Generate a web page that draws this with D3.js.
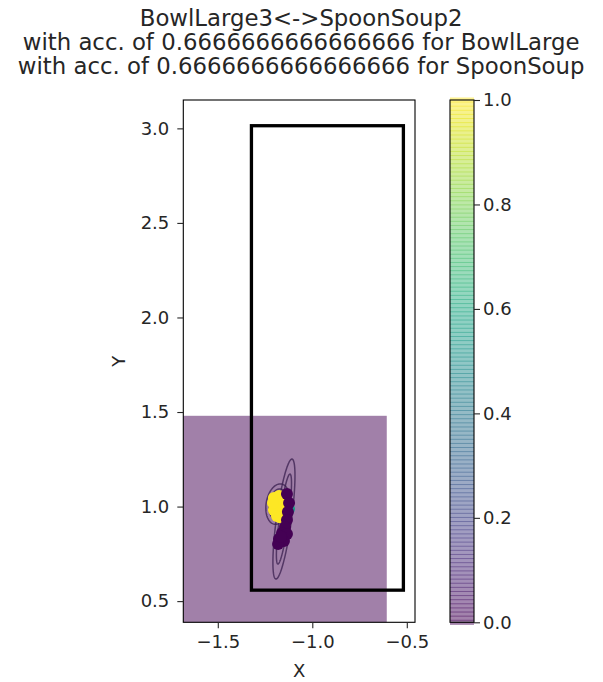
<!DOCTYPE html>
<html>
<head>
<meta charset="utf-8">
<script src="https://cdn.jsdelivr.net/npm/d3@7"></script>
<style>
  html, body { margin: 0; padding: 0; background: #fff; }
  svg { display: block; font-family: "DejaVu Sans", sans-serif; }
</style>
</head>
<body>
<svg id="chart" width="603" height="682"></svg>
<script>
// ---------- data ----------
const titleLines = [
  "BowlLarge3<->SpoonSoup2",
  "with acc. of 0.6666666666666666 for BowlLarge",
  "with acc. of 0.6666666666666666 for SpoonSoup"
];
const xLabel = "X";
const yLabel = "Y";
const xDomain = [-1.6825, -0.4566];
const yDomain = [0.388, 3.15];
const xTicks = [-1.5, -1.0, -0.5];
const yTicks = [0.5, 1.0, 1.5, 2.0, 2.5, 3.0];
const cbTicks = [0.0, 0.2, 0.4, 0.6, 0.8, 1.0];

// predicted-probability region (value 0)
const regionX = [-1.75, -0.606];
const regionY = [0.30, 1.48];
const regionValue = 0;

// black target box
const boxX = [-1.322, -0.518];
const boxY = [0.558, 3.014];

// Gaussian ellipses
const ellipseCx = [-1.150, -1.150, -1.182, -1.182];
const ellipseCy = [0.934, 0.934, 1.013, 1.013];
const ellipseA = [0.320, 0.240, 0.108, 0.081];
const ellipseB = [0.040, 0.024, 0.062, 0.046];
const ellipseAngle = [82.3, 82.3, 80, 80];

// scatter points
const pointX = [-1.123,
                -1.203, -1.176, -1.155, -1.150, -1.166, -1.187, -1.203, -1.181, -1.208, -1.171,
                -1.134, -1.123, -1.129, -1.134, -1.144, -1.160, -1.176, -1.150, -1.181, -1.134, -1.165];
const pointY = [0.987,
                1.045, 1.056, 1.040, 1.003, 0.971, 0.950, 0.982, 1.008, 1.019, 0.944,
                1.066, 1.019, 0.971, 0.929, 0.892, 0.860, 0.828, 0.818, 0.802, 0.855, 0.840];
const pointValue = [0.55,
                    1, 1, 1, 1, 1, 1, 1, 1, 1, 1,
                    0, 0, 0, 0, 0, 0, 0, 0, 0, 0, 0];

// ---------- layout ----------
const svg = d3.select("#chart");
const ax = {left: 183.3, right: 415, top: 100, bottom: 622.3};
const cb = {left: 450, right: 474, top: 100, bottom: 622.3};
const textColor = "#262626";

const x = d3.scaleLinear().domain(xDomain).range([ax.left, ax.right]);
const y = d3.scaleLinear().domain(yDomain).range([ax.bottom, ax.top]);
const color = d3.scaleSequential(d3.interpolateViridis).domain([0, 1]);

svg.append("defs").append("clipPath").attr("id", "clip")
  .append("rect").attr("x", ax.left).attr("y", ax.top)
  .attr("width", ax.right - ax.left).attr("height", ax.bottom - ax.top);

const plot = svg.append("g").attr("clip-path", "url(#clip)");

// region
plot.append("rect")
  .attr("x", x(regionX[0])).attr("y", y(regionY[1]))
  .attr("width", x(regionX[1]) - x(regionX[0]))
  .attr("height", y(regionY[0]) - y(regionY[1]))
  .attr("fill", color(regionValue)).attr("fill-opacity", 0.5);

// box
plot.append("rect")
  .attr("x", x(boxX[0])).attr("y", y(boxY[1]))
  .attr("width", x(boxX[1]) - x(boxX[0]))
  .attr("height", y(boxY[0]) - y(boxY[1]))
  .attr("fill", "none").attr("stroke", "#000").attr("stroke-width", 3.3);

// ellipses
const line = d3.line().x(d => x(d[0])).y(d => y(d[1])).curve(d3.curveLinearClosed);
ellipseCx.forEach((cx, i) => {
  const th = ellipseAngle[i] * Math.PI / 180;
  const pts = d3.range(0, 120).map(k => {
    const t = k / 120 * 2 * Math.PI;
    const u = ellipseA[i] * Math.cos(t), v = ellipseB[i] * Math.sin(t);
    return [cx + u * Math.cos(th) - v * Math.sin(th), ellipseCy[i] + u * Math.sin(th) + v * Math.cos(th)];
  });
  plot.append("path").attr("d", line(pts))
    .attr("fill", "none").attr("stroke", "#3a1f4f")
    .attr("stroke-opacity", 0.75).attr("stroke-width", 1.5);
});

// points
plot.selectAll("circle.pt").data(pointX.map((d, i) => i)).enter()
  .append("circle").attr("class", "pt")
  .attr("cx", i => x(pointX[i])).attr("cy", i => y(pointY[i]))
  .attr("r", 6).attr("fill", i => color(pointValue[i]));

// spines
svg.append("rect").attr("x", ax.left).attr("y", ax.top)
  .attr("width", ax.right - ax.left).attr("height", ax.bottom - ax.top)
  .attr("fill", "none").attr("stroke", "#000").attr("stroke-width", 1.1);

// axes
const xAxis = d3.axisBottom(x).tickValues(xTicks).tickSize(6).tickPadding(7)
  .tickFormat(d => d3.format(".1f")(d).replace("-", "\u2212"));
const gx = svg.append("g").attr("transform", `translate(0,${ax.bottom})`).call(xAxis);
const yAxis = d3.axisLeft(y).tickValues(yTicks).tickSize(6).tickPadding(8)
  .tickFormat(d3.format(".1f"));
const gy = svg.append("g").attr("transform", `translate(${ax.left},0)`).call(yAxis);
[gx, gy].forEach(g => {
  g.select(".domain").remove();
  g.selectAll("text").attr("font-size", 18).attr("fill", textColor).attr("font-family", "DejaVu Sans");
  g.selectAll("line").attr("stroke", textColor).attr("stroke-width", 1.1);
});

svg.append("text").attr("x", (ax.left + ax.right) / 2).attr("y", 677)
  .attr("text-anchor", "middle").attr("font-size", 18).attr("fill", textColor).text(xLabel);
svg.append("text").attr("transform", `translate(125,${(ax.top + ax.bottom) / 2}) rotate(-90)`)
  .attr("text-anchor", "middle").attr("font-size", 18).attr("fill", textColor).text(yLabel);

// title
titleLines.forEach((t, i) => {
  svg.append("text").attr("x", (ax.left + ax.right) / 2 + 2).attr("y", 26 + i * 24)
    .attr("text-anchor", "middle").attr("font-size", 22.8).attr("fill", textColor).text(t);
});

// colorbar
const cy = d3.scaleLinear().domain([0, 1]).range([cb.bottom, cb.top]);
const nSeg = 128;
const segs = d3.range(nSeg).map(k => k / (nSeg - 1));
svg.append("g").selectAll("rect").data(segs).enter().append("rect")
  .attr("x", cb.left).attr("width", cb.right - cb.left)
  .attr("y", d => cy(d) - (cb.bottom - cb.top) / nSeg / 2 - 0.5)
  .attr("height", (cb.bottom - cb.top) / nSeg + 1)
  .attr("fill", d => color(d)).attr("fill-opacity", 0.5);
svg.append("rect").attr("x", cb.left).attr("y", cb.top)
  .attr("width", cb.right - cb.left).attr("height", cb.bottom - cb.top)
  .attr("fill", "none").attr("stroke", "#000").attr("stroke-width", 1.1);
const cAxis = d3.axisRight(cy).tickValues(cbTicks).tickSize(6).tickPadding(3).tickFormat(d3.format(".1f"));
const gc = svg.append("g").attr("transform", `translate(${cb.right},0)`).call(cAxis);
gc.select(".domain").remove();
gc.selectAll("text").attr("font-size", 18).attr("fill", textColor).attr("font-family", "DejaVu Sans");
gc.selectAll("line").attr("stroke", textColor).attr("stroke-width", 1.1);
</script>
</body>
</html>
